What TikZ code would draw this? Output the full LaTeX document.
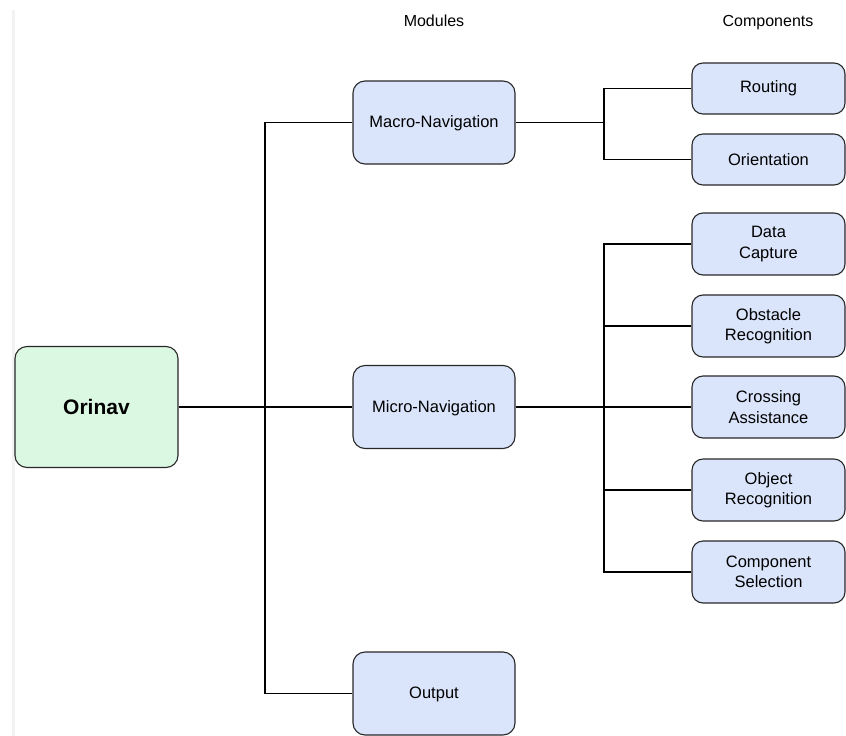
\documentclass[tikz,border=0pt]{standalone}
\usepackage{fontspec}
\setmainfont{Liberation Sans}
\usetikzlibrary{calc}
\definecolor{rootfill}{RGB}{219,248,226}
\definecolor{boxfill}{RGB}{218,229,251}
\definecolor{boxline}{RGB}{40,40,40}
\definecolor{bandgray}{RGB}{242,242,242}
\tikzset{
	rootbox/.style={draw=boxline, line width=1.1pt, fill=rootfill, rounded corners=12pt,
		minimum width=163pt, minimum height=121pt, font=\fontsize{21}{24}\selectfont\bfseries},
	modbox/.style={draw=boxline, line width=1.1pt, fill=boxfill, rounded corners=12pt,
		minimum width=162pt, minimum height=83pt, text depth=1pt, font=\fontsize{16.5}{19}\selectfont},
	compbox/.style={draw=boxline, line width=1.1pt, fill=boxfill, rounded corners=11pt,
		minimum width=153pt, align=center, font=\fontsize{16.5}{20.5}\selectfont},
	wire/.style={line width=1.1pt, draw=black},
	head/.style={anchor=base, font=\fontsize{16}{19}\selectfont}
}
\begin{document}
\begin{tikzpicture}[x=1pt, y=-1pt]
		%%%%% START %%%%%
		\useasboundingbox (0, 0) rectangle (846, 736);
		\fill[bandgray] (12, 10) rectangle (15, 736);
		
		\node[head] (modhead) at (434, 27) {Modules};
		\node[head] (comphead) at (768, 27) {Components};
		
		\node[rootbox] (orinav) at (96.5, 407) {Orinav};
		
		\node[modbox] (macro) at (434, 122.5) {Macro-Navigation};
		\node[modbox] (micro) at (434, 407) {Micro-Navigation};
		\node[modbox] (output) at (434, 693.5) {Output};
		
		\node[compbox, minimum height=51pt] (routing) at (768.5, 88.5) {Routing};
		\node[compbox, minimum height=51pt] (orient) at (768.5, 159.5) {Orientation};
		
		\node[compbox, minimum height=62pt] (capture) at (768.5, 244) {Data\\Capture};
		\node[compbox, minimum height=62pt] (obstacle) at (768.5, 326) {Obstacle\\Recognition};
		\node[compbox, minimum height=62pt] (crossing) at (768.5, 407) {Crossing\\Assistance};
		\node[compbox, minimum height=62pt] (object) at (768.5, 490) {Object\\Recognition};
		\node[compbox, minimum height=62pt] (select) at (768.5, 572) {Component\\Selection};
		
		\coordinate (trunkA) at (265, 0);
		\coordinate (trunkB) at (604, 0);
		
		% root to modules
		\draw[wire] (orinav.east) -- (micro.west);
		\draw[wire] (macro.west) -- (macro.west -| trunkA) -- (output.west -| trunkA) -- (output.west);
		
		% macro-navigation to its components
		\draw[wire] (macro.east) -- (macro.east -| trunkB);
		\draw[wire] (routing.west) -- (routing.west -| trunkB) -- (orient.west -| trunkB) -- (orient.west);
		
		% micro-navigation to its components
		\draw[wire] (micro.east) -- (crossing.west);
		\draw[wire] (capture.west) -- (capture.west -| trunkB) -- (select.west -| trunkB) -- (select.west);
		\draw[wire] (obstacle.west -| trunkB) -- (obstacle.west);
		\draw[wire] (object.west -| trunkB) -- (object.west);
		
		%%%%% END %%%%%
\end{tikzpicture}
\end{document}
